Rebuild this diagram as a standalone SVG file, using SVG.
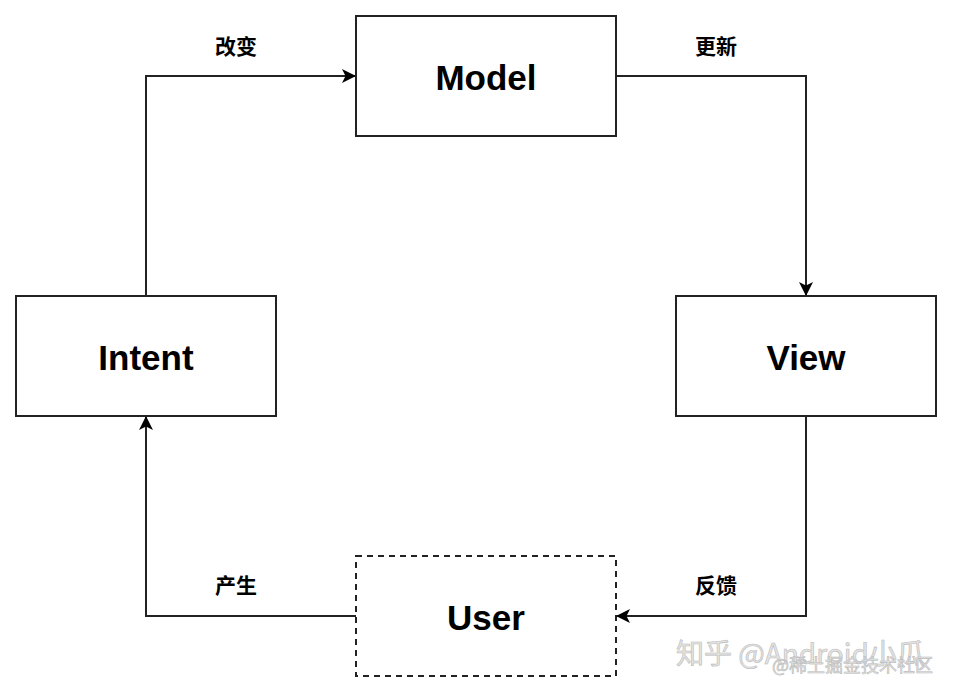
<svg xmlns="http://www.w3.org/2000/svg" width="954" height="694" viewBox="0 0 954 694">
<style>
.box{fill:#fff;stroke:#222;stroke-width:2}
.dash{stroke-dasharray:6 5}
.nt{font-family:"Liberation Sans",Arial,sans-serif;font-weight:bold;font-size:35px;fill:#000;text-anchor:middle}
.lb{font-family:"Noto Sans CJK SC",sans-serif;font-weight:bold;font-size:21px;fill:#000;text-anchor:middle}
.edge{fill:none;stroke:#222;stroke-width:2}
.wm{font-family:"Noto Sans CJK SC",sans-serif;fill:#e4e4e4;stroke:#bbb;stroke-width:0.6}
</style>
<defs>
<marker id="arr" viewBox="0 0 14 14" refX="13" refY="7" markerWidth="14" markerHeight="14" markerUnits="userSpaceOnUse" orient="auto">
<path d="M0,0 L14,7 L0,14 L3.5,7 Z" fill="#000"/>
</marker>
</defs>
<rect width="954" height="694" fill="#fff"/>
<g id="connectors">
<path class="edge" d="M146,296 V76 H355" marker-end="url(#arr)"/>
<path class="edge" d="M616,76 H806 V295" marker-end="url(#arr)"/>
<path class="edge" d="M806,416 V616 H617" marker-end="url(#arr)"/>
<path class="edge" d="M356,616 H146 V417" marker-end="url(#arr)"/>
<text class="lb" x="236" y="54">改变</text>
<text class="lb" x="716" y="54">更新</text>
<text class="lb" x="236" y="593">产生</text>
<text class="lb" x="716" y="593">反馈</text>
</g>
<g id="model">
<rect class="box" x="356" y="16" width="260" height="120"/>
<text class="nt" x="486" y="90">Model</text>
</g>
<g id="view">
<rect class="box" x="676" y="296" width="260" height="120"/>
<text class="nt" x="806" y="370">View</text>
</g>
<g id="intent">
<rect class="box" x="16" y="296" width="260" height="120"/>
<text class="nt" x="146" y="370">Intent</text>
</g>
<g id="user">
<rect class="box dash" x="356" y="556" width="260" height="120"/>
<text class="nt" x="486" y="630">User</text>
</g>
<g id="watermark">
<text class="wm" x="676" y="664" style="font-size:28px">知乎 @Android小瓜</text>
<text class="wm" x="772" y="672" style="font-size:18px">@稀土掘金技术社区</text>
</g>
</svg>
